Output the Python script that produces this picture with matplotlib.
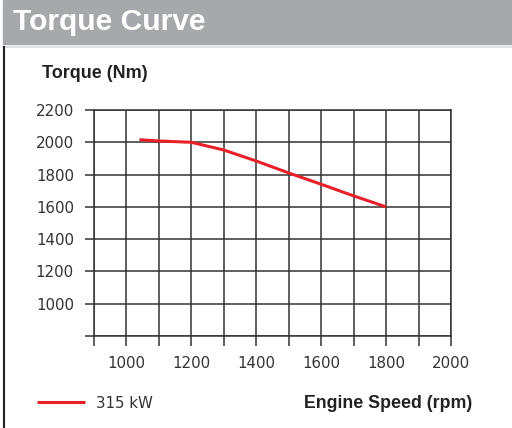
import matplotlib
matplotlib.use('Agg')
import matplotlib.pyplot as plt
from matplotlib.patches import Rectangle
from matplotlib.lines import Line2D

# torque curve
rpm = [1040, 1100, 1200, 1300, 1400, 1500, 1600, 1700, 1800]
torque = [2016, 2008, 2000, 1952, 1884, 1810, 1740, 1668, 1600]
series_label = '315 kW'

xticks = list(range(900, 2001, 100))
xlabels = [str(v) if v % 200 == 0 else '' for v in xticks]
yticks = list(range(800, 2201, 200))
ylabels = [str(v) if v >= 1000 else '' for v in yticks]

W, H = 512, 428
fig = plt.figure(figsize=(W / 100, H / 100), dpi=100)

# header bar
fig.patches.append(Rectangle((3 / W, 1 - 44 / H), 1 - 3 / W, 44 / H,
                             transform=fig.transFigure, color='#a7a8ab', zorder=0))
fig.lines.append(Line2D([3 / W, 1], [1 - 46.5 / H] * 2, transform=fig.transFigure,
                        color='#dcdcde', lw=1.2))
fig.lines.append(Line2D([3.5 / W] * 2, [0, 1 - 47 / H], transform=fig.transFigure,
                        color='#222222', lw=1.5))
fig.text(13 / W, 1 - 22 / H, 'Torque Curve', family='Liberation Sans', weight='bold',
         fontsize=21.6, color='white', va='center', ha='left')

ax = fig.add_axes([94 / W, 92 / H, 357 / W, 226 / H])
ax.plot(rpm, torque, color='#e8202a', lw=2.2, solid_capstyle='butt', zorder=3,
        label=series_label)
ax.set_xlim(900, 2000)
ax.set_ylim(800, 2200)
ax.set_xticks(xticks)
ax.set_xticklabels(xlabels)
ax.set_yticks(yticks)
ax.set_yticklabels(ylabels)
ax.grid(True, color='#333333', lw=1.1)
for s in ax.spines.values():
    s.set_color('#333333')
    s.set_linewidth(1.1)
ax.tick_params(axis='x', length=7.2, width=1.1, color='#333333', pad=7,
               labelsize=10.8, labelcolor='#333333')
ax.tick_params(axis='y', length=6.5, width=1.1, color='#333333', pad=8,
               labelsize=10.8, labelcolor='#333333')

fig.text(42 / W, 1 - 74 / H, 'Torque (Nm)', family='Liberation Sans', weight='bold',
         fontsize=13, color='#222222', va='center', ha='left')
fig.text(472 / W, 1 - 404 / H, 'Engine Speed (rpm)', family='Liberation Sans',
         weight='bold', fontsize=12.8, color='#222222', va='center', ha='right')

ax.legend(loc='center left', bbox_to_anchor=(37 / W, 1 - 403 / H),
          bbox_transform=fig.transFigure, frameon=False, borderpad=0,
          borderaxespad=0, handlelength=3.2, handletextpad=0.75, fontsize=10.8,
          labelcolor='#333333')

fig.savefig('out.png', dpi=100)
